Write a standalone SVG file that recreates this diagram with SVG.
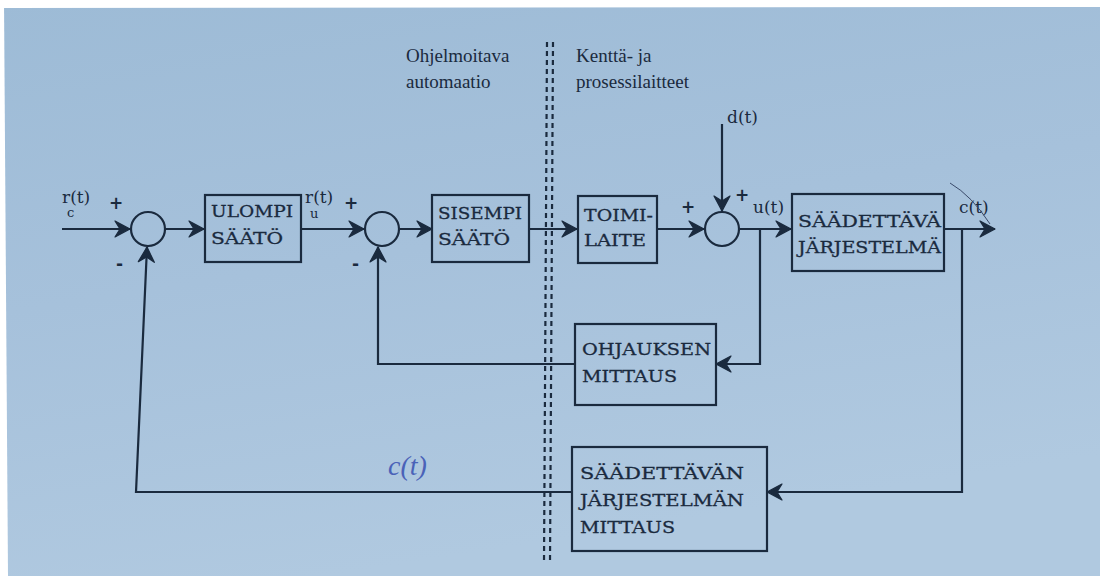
<svg xmlns="http://www.w3.org/2000/svg" width="1100" height="576" viewBox="0 0 1100 576">
<defs>
<linearGradient id="bg" x1="0" y1="0" x2="0.3" y2="1">
<stop offset="0" stop-color="#9dbbd6"/>
<stop offset="0.5" stop-color="#a6c1db"/>
<stop offset="1" stop-color="#b0c9e0"/>
</linearGradient>
<marker id="arr" viewBox="-16 -10 20 20" refX="0" refY="0" markerWidth="20" markerHeight="20" markerUnits="userSpaceOnUse" orient="auto">
<path d="M0,0 L-15,-8 L-10,0 L-15,8 Z" fill="#1a2a3e" stroke="#1a2a3e" stroke-width="1.2" stroke-linejoin="round"/>
</marker>
<style>
.ln{fill:none;stroke:#1a2a3e;stroke-width:2.2}
.box{fill:none;stroke:#1a2a3e;stroke-width:2.2}
.sum{fill:none;stroke:#1a2a3e;stroke-width:2.2}
.bt{font-family:"DejaVu Serif","Liberation Serif",serif;font-size:17px;fill:#1a2a3e;stroke:#1a2a3e;stroke-width:0.3}
.lbl{font-family:"DejaVu Serif","Liberation Serif",serif;font-size:17px;fill:#1a2a3e}
.sg{font-family:"DejaVu Sans","Liberation Sans",sans-serif;font-size:17px;font-weight:bold;fill:#1a2a3e}
.hd{font-family:"Liberation Serif",serif;font-size:19px;fill:#1a2a3e}
.dot{stroke:#1a2a3e;stroke-width:2.2;stroke-dasharray:5 4}
</style>
</defs>
<rect width="1100" height="576" fill="url(#bg)"/>
<polygon points="0,0 1100,0 1100,7 0,8" fill="#ffffff"/>
<polygon points="0,0 4,0 8,576 0,576" fill="#ffffff"/>

<g id="divider">
<line class="dot" x1="547" y1="42" x2="544" y2="562"/>
<line class="dot" x1="553" y1="42" x2="550" y2="562"/>
<text class="hd" x="406" y="62">Ohjelmoitava</text>
<text class="hd" x="406" y="88">automaatio</text>
<text class="hd" x="576" y="62">Kenttä- ja</text>
<text class="hd" x="576" y="88">prosessilaitteet</text>
</g>

<g id="connectors">
<path class="ln" d="M62,229 H130" marker-end="url(#arr)"/>
<path class="ln" d="M165,229 H204" marker-end="url(#arr)"/>
<path class="ln" d="M300,229 H364" marker-end="url(#arr)"/>
<path class="ln" d="M399,229 H432" marker-end="url(#arr)"/>
<path class="ln" d="M529,229 H577" marker-end="url(#arr)"/>
<path class="ln" d="M657,229 H704" marker-end="url(#arr)"/>
<path class="ln" d="M722,124 V211" marker-end="url(#arr)"/>
<path class="ln" d="M739,229 H791" marker-end="url(#arr)"/>
<path class="ln" d="M944,229 H995" marker-end="url(#arr)"/>
<path class="ln" d="M760,229 V364 H716" marker-end="url(#arr)"/>
<path class="ln" d="M575,364 H378 V247" marker-end="url(#arr)"/>
<path class="ln" d="M962,229 V492 H767" marker-end="url(#arr)"/>
<path class="ln" d="M572,492 H136 L147,247" marker-end="url(#arr)"/>
</g>

<g id="sum1"><circle class="sum" cx="148" cy="229" r="17"/>
<text class="sg" x="109" y="209">+</text><text class="sg" x="116" y="270">-</text></g>
<g id="sum2"><circle class="sum" cx="382" cy="229" r="17"/>
<text class="sg" x="344" y="209">+</text><text class="sg" x="352" y="270">-</text></g>
<g id="sum3"><circle class="sum" cx="722" cy="229" r="17"/>
<text class="sg" x="681" y="213">+</text><text class="sg" x="735" y="201">+</text></g>

<g id="ulompi"><rect class="box" x="205" y="195" width="96" height="67"/>
<text class="bt" x="211" y="217" textLength="82" lengthAdjust="spacingAndGlyphs">ULOMPI</text>
<text class="bt" x="211" y="244" textLength="72" lengthAdjust="spacingAndGlyphs">SÄÄTÖ</text></g>

<g id="sisempi"><rect class="box" x="432" y="195" width="97" height="67"/>
<text class="bt" x="438" y="219" textLength="84" lengthAdjust="spacingAndGlyphs">SISEMPI</text>
<text class="bt" x="438" y="245" textLength="72" lengthAdjust="spacingAndGlyphs">SÄÄTÖ</text></g>

<g id="toimilaite"><rect class="box" x="578" y="196" width="79" height="67"/>
<text class="bt" x="584" y="221" textLength="69" lengthAdjust="spacingAndGlyphs">TOIMI-</text>
<text class="bt" x="584" y="246" textLength="62" lengthAdjust="spacingAndGlyphs">LAITE</text></g>

<g id="plant"><rect class="box" x="792" y="194" width="152" height="77"/>
<text class="bt" x="798" y="227" textLength="143" lengthAdjust="spacingAndGlyphs">SÄÄDETTÄVÄ</text>
<text class="bt" x="798" y="253" textLength="143" lengthAdjust="spacingAndGlyphs">JÄRJESTELMÄ</text></g>

<g id="ohjauksen"><rect class="box" x="575" y="324" width="141" height="81"/>
<text class="bt" x="582" y="355" textLength="129" lengthAdjust="spacingAndGlyphs">OHJAUKSEN</text>
<text class="bt" x="582" y="382" textLength="95" lengthAdjust="spacingAndGlyphs">MITTAUS</text></g>

<g id="mittaus"><rect class="box" x="572" y="447" width="195" height="104"/>
<text class="bt" x="580" y="479" textLength="164" lengthAdjust="spacingAndGlyphs">SÄÄDETTÄVÄN</text>
<text class="bt" x="580" y="506" textLength="164" lengthAdjust="spacingAndGlyphs">JÄRJESTELMÄN</text>
<text class="bt" x="580" y="533" textLength="95" lengthAdjust="spacingAndGlyphs">MITTAUS</text></g>

<g id="labels">
<text class="lbl" x="62" y="203">r(t)</text>
<text class="lbl" x="67" y="217" style="font-size:13px">c</text>
<text class="lbl" x="305" y="203">r(t)</text>
<text class="lbl" x="310" y="218" style="font-size:13px">u</text>
<text class="lbl" x="727" y="123">d(t)</text>
<text class="lbl" x="753" y="213">u(t)</text>
<text class="lbl" x="959" y="213">c(t)</text>
<path d="M950,183 Q972,196 990,224" fill="none" stroke="#3a4a6a" stroke-width="1"/>
<text x="388" y="475" style="font-family:'Liberation Serif',serif;font-style:italic;font-size:28px;fill:#4a62b8">c(t)</text>
</g>
</svg>
